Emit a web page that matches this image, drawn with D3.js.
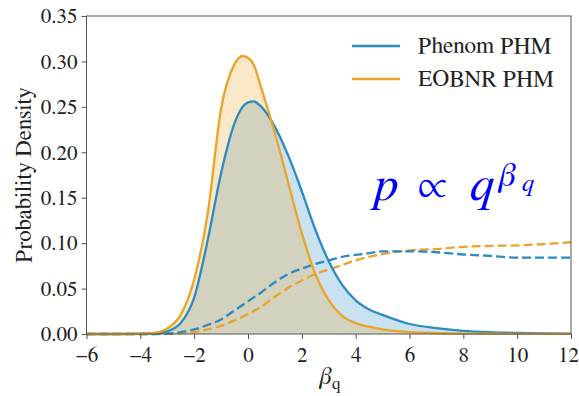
<!DOCTYPE html>
<html>
<head>
<meta charset="utf-8">
<script src="https://cdn.jsdelivr.net/npm/d3@7"></script>
<style>
  body { margin: 0; background: #fff; }
</style>
</head>
<body>
<svg id="chart" width="579" height="396"></svg>
<script>
// Sample points of beta_q at which the densities are tabulated
const betaGrid = [-6, -5, -4, -3.5, -3, -2.5, -2, -1.5, -1, -0.5, -0.2, 0, 0.2, 0.5, 1, 1.5, 2, 2.5, 3, 3.5, 4, 4.5, 5, 6, 7, 8, 9, 10, 11, 12];

// Posterior densities (solid, filled)
const phenomPdf = [0, 0, 0.0001, 0.0006, 0.003, 0.012, 0.040, 0.103, 0.177, 0.232, 0.250, 0.255, 0.256, 0.250, 0.228, 0.196, 0.157, 0.115, 0.080, 0.054, 0.037, 0.027, 0.021, 0.011, 0.0065, 0.0035, 0.002, 0.0012, 0.0007, 0.0004];
const eobnrPdf  = [0, 0, 0.0003, 0.0012, 0.006, 0.021, 0.060, 0.132, 0.248, 0.297, 0.306, 0.304, 0.297, 0.270, 0.221, 0.166, 0.111, 0.066, 0.037, 0.020, 0.012, 0.008, 0.005, 0.002, 0.001, 0.0005, 0.0003, 0.0002, 0.0001, 0.0001];

// Companion densities (dashed)
const phenomDashed = [0, 0, 0, 0, 0.0005, 0.002, 0.005, 0.010, 0.016, 0.026, 0.032, 0.036, 0.040, 0.046, 0.057, 0.066, 0.072, 0.077, 0.081, 0.085, 0.087, 0.089, 0.091, 0.091, 0.090, 0.0875, 0.086, 0.084, 0.084, 0.084];
const eobnrDashed  = [0, 0, 0, 0, 0.0002, 0.0008, 0.002, 0.005, 0.009, 0.015, 0.019, 0.022, 0.025, 0.030, 0.041, 0.051, 0.059, 0.066, 0.071, 0.076, 0.081, 0.085, 0.088, 0.092, 0.0935, 0.096, 0.097, 0.0975, 0.099, 0.101];

const seriesNames = ["Phenom PHM", "EOBNR PHM"];
const xTicks = [-6, -4, -2, 0, 2, 4, 6, 8, 10, 12];
const yTicks = [0, 0.05, 0.10, 0.15, 0.20, 0.25, 0.30, 0.35];

const BLUE = "#2c8bc4";
const ORANGE = "#eaa528";
const SPINE = "#555";
const INK = "#222";
const SERIF = "'FreeSerif'";

const svg = d3.select("#chart");
const W = 579, H = 396;
const margin = { left: 86.5, right: 8, top: 16, bottom: 62 };

const x = d3.scaleLinear().domain([-6, 12]).range([margin.left, W - margin.right]);
const y = d3.scaleLinear().domain([0, 0.35]).range([H - margin.bottom, margin.top]);

svg.append("rect").attr("width", W).attr("height", H).attr("fill", "#fff");

const plot = svg.append("g");
const curve = d3.curveMonotoneX;

function series(vals) { return betaGrid.map((b, i) => [b, vals[i]]); }

const area = d3.area().x(d => x(d[0])).y0(y(0)).y1(d => y(d[1])).curve(curve);
const line = d3.line().x(d => x(d[0])).y(d => y(d[1])).curve(curve);

// filled posteriors
plot.append("path").attr("d", area(series(phenomPdf))).attr("fill", BLUE).attr("fill-opacity", 0.25);
plot.append("path").attr("d", area(series(eobnrPdf))).attr("fill", ORANGE).attr("fill-opacity", 0.25);

// dashed curves
plot.append("path").attr("d", line(series(eobnrDashed))).attr("fill", "none")
  .attr("stroke", ORANGE).attr("stroke-width", 2.3).attr("stroke-dasharray", "9,4");
plot.append("path").attr("d", line(series(phenomDashed))).attr("fill", "none")
  .attr("stroke", BLUE).attr("stroke-width", 2.3).attr("stroke-dasharray", "9,4");

// solid outlines
plot.append("path").attr("d", line(series(phenomPdf))).attr("fill", "none")
  .attr("stroke", BLUE).attr("stroke-width", 2.3).attr("stroke-linejoin", "round");
plot.append("path").attr("d", line(series(eobnrPdf))).attr("fill", "none")
  .attr("stroke", ORANGE).attr("stroke-width", 2.3).attr("stroke-linejoin", "round");

// axes
const fmtX = d => (d < 0 ? "\u2212" + Math.abs(d) : String(d));
const xAxis = svg.append("g").attr("transform", `translate(0,${y(0)})`)
  .call(d3.axisBottom(x).tickValues(xTicks).tickFormat(fmtX).tickSize(5).tickPadding(8));
const yAxis = svg.append("g").attr("transform", `translate(${x(-6)},0)`)
  .call(d3.axisLeft(y).tickValues(yTicks).tickFormat(d3.format(".2f")).tickSize(5).tickPadding(4));
[xAxis, yAxis].forEach(g => {
  g.attr("font-family", null).attr("font-size", null);
  g.select(".domain").remove();
  g.selectAll(".tick line").attr("stroke", SPINE).attr("stroke-width", 1);
  g.selectAll(".tick text").attr("fill", INK)
    .style("font-family", SERIF).style("font-size", "21px");
});
// keep the rightmost tick label inside the canvas
xAxis.selectAll(".tick text").filter(d => d === 12).attr("dx", -3);

// frame
svg.append("rect")
  .attr("x", x(-6)).attr("y", y(0.35))
  .attr("width", x(12) - x(-6)).attr("height", y(0) - y(0.35))
  .attr("fill", "none").attr("stroke", SPINE).attr("stroke-width", 1);

// axis titles
svg.append("text")
  .attr("transform", `translate(31,${(y(0) + y(0.35)) / 2}) rotate(-90)`)
  .attr("text-anchor", "middle").attr("fill", INK)
  .style("font-family", SERIF).style("font-size", "23px")
  .text("Probability Density");

const xl = svg.append("text").attr("x", 330).attr("y", 384).attr("text-anchor", "middle")
  .attr("fill", INK).style("font-family", SERIF).style("font-size", "24px");
xl.append("tspan").style("font-style", "italic").text("\u03B2");
xl.append("tspan").attr("dy", 5).style("font-size", "17px").text("q");

// legend
const legend = svg.append("g");
[BLUE, ORANGE].forEach((c, i) => {
  const ly = 46 + i * 33;
  legend.append("line").attr("x1", 352).attr("x2", 400).attr("y1", ly).attr("y2", ly)
    .attr("stroke", c).attr("stroke-width", 2.3);
  legend.append("text").attr("x", 418).attr("y", ly + 7).attr("fill", INK)
    .style("font-family", SERIF).style("font-size", "23.5px").text(seriesNames[i]);
});

// annotation: p ∝ q^{β_q}
const ann = svg.append("g").attr("fill", "#0000ff");
const annText = (tx, ty, size, italic, s) =>
  ann.append("text").attr("x", tx).attr("y", ty)
    .style("font-family", SERIF).style("font-size", size + "px")
    .style("font-style", italic ? "italic" : "normal").text(s);
annText(374, 200, 50, true, "p");
annText(418, 200, 46, false, "\u221D");
annText(470, 200, 50, true, "q");
annText(499, 186, 34, true, "\u03B2");
annText(522, 191, 25, true, "q");
</script>
</body>
</html>
